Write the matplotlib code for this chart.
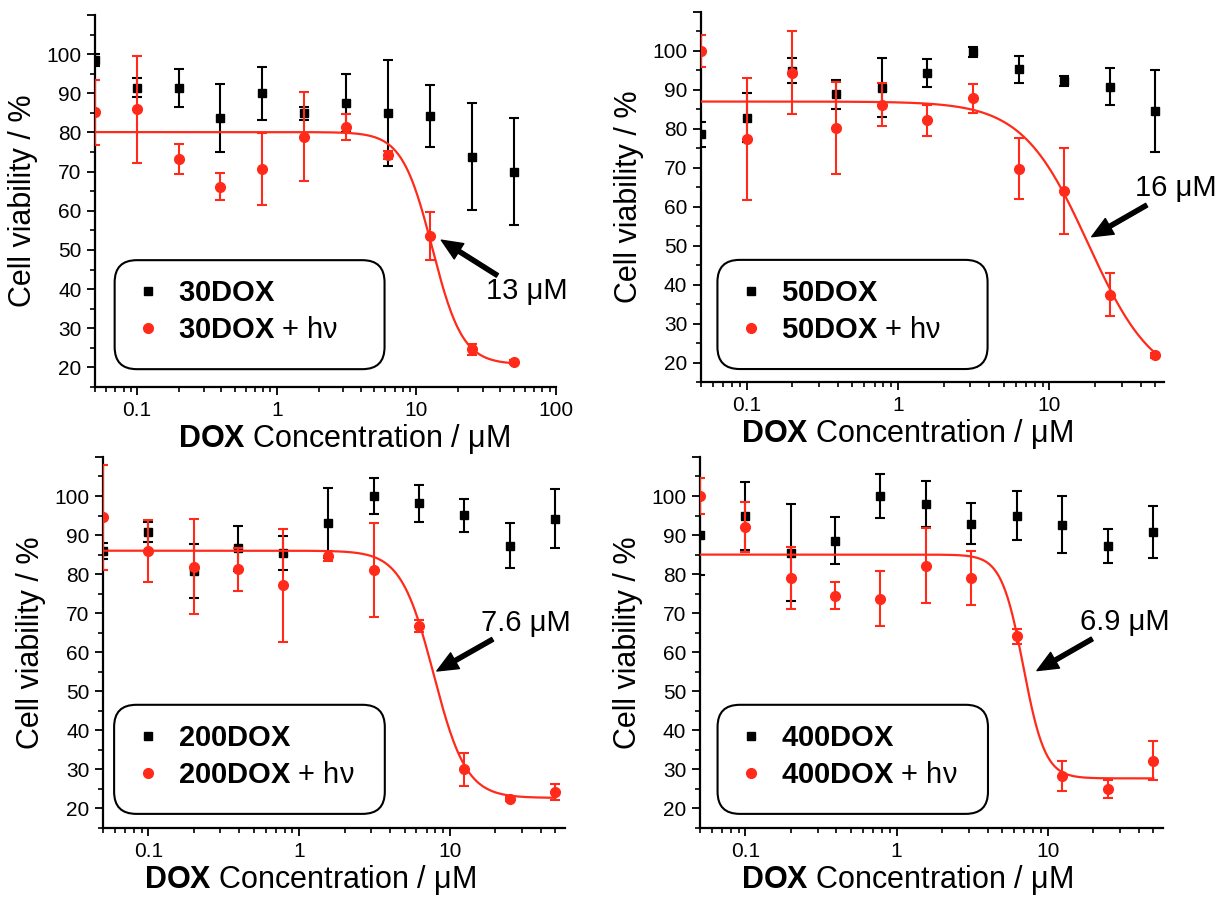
import numpy as np
import matplotlib
matplotlib.use('Agg')
import matplotlib.pyplot as plt
from matplotlib.patches import FancyBboxPatch
from matplotlib.ticker import LogLocator, NullFormatter, MultipleLocator

plt.rcParams['font.family'] = ['Liberation Sans', 'DejaVu Sans']
plt.rcParams['mathtext.fontset'] = 'custom'
plt.rcParams['mathtext.rm'] = 'Liberation Sans'
plt.rcParams['mathtext.bf'] = 'Liberation Sans:bold'

RED = '#ff2a1a'

# DOX concentration (uM)
conc = [0.05, 0.1, 0.2, 0.39, 0.78, 1.56, 3.125, 6.25, 12.5, 25, 50]

# 30DOX
dark30 = [98.5, 91.4, 91.3, 83.7, 90.0, 84.9, 87.5, 85.0, 84.3, 73.8, 70.0]
dark30_err = [1.5, 2.4, 4.8, 8.7, 6.8, 1.7, 7.4, 13.5, 7.9, 13.7, 13.6]
light30 = [85.2, 85.9, 73.2, 66.2, 70.7, 78.9, 81.4, 74.3, 53.5, 24.6, 21.3]
light30_err = [8.3, 13.7, 3.9, 3.5, 9.1, 11.4, 3.2, 1.0, 6.1, 1.5, 0.5]

# 50DOX
dark50 = [78.6, 82.9, 94.9, 88.9, 90.6, 94.4, 99.7, 95.3, 92.2, 90.8, 84.5]
dark50_err = [3.2, 6.3, 3.2, 3.7, 7.5, 3.6, 1.3, 3.5, 1.3, 4.7, 10.5]
light50 = [99.9, 77.3, 94.4, 80.3, 86.2, 82.2, 87.8, 69.8, 64.1, 37.4, 21.8]
light50_err = [4.1, 15.7, 10.7, 11.8, 5.6, 4.0, 3.7, 7.9, 11.1, 5.5, 0.7]

# 200DOX
dark200 = [86.0, 90.8, 80.8, 86.6, 85.4, 93.1, 100.0, 98.1, 95.1, 87.3, 94.2]
dark200_err = [2.0, 2.5, 6.9, 5.8, 4.4, 8.9, 4.6, 4.7, 4.2, 5.7, 7.6]
light200 = [94.5, 85.9, 81.9, 81.2, 77.1, 84.6, 81.0, 66.7, 30.0, 22.5, 24.2]
light200_err = [13.5, 8.0, 12.1, 5.5, 14.4, 1.3, 12.0, 1.5, 4.3, 0.5, 2.0]

# 400DOX
dark400 = [89.9, 94.9, 85.5, 88.6, 100.0, 98.0, 92.9, 95.0, 92.7, 87.2, 90.8]
dark400_err = [10.0, 8.7, 12.4, 6.0, 5.6, 5.9, 5.3, 6.3, 7.3, 4.3, 6.7]
light400 = [100.0, 92.0, 79.0, 74.5, 73.7, 82.2, 79.0, 64.1, 28.3, 24.9, 32.2]
light400_err = [4.6, 6.4, 8.0, 3.4, 7.1, 9.6, 7.0, 1.9, 3.8, 2.3, 5.0]

# logistic fit parameters: top, bottom, x0, hill
fit30 = (80.1, 20.8, 13.0, 4.0)
fit50 = (87.0, 14.0, 18.0, 2.0)
fit200 = (86.0, 22.7, 7.8, 4.0)
fit400 = (85.0, 27.7, 6.9, 6.0)

panels = [
    dict(name='30DOX', dark=dark30, dark_err=dark30_err, light=light30, light_err=light30_err,
         fit=fit30, ic50='13 μM', rect=[0.0776, 0.5695, 0.3763, 0.4138], xmax=100,
         head=(15.1, 52.5), tail=(38, 43.5), txt=(31.4, 39.4),
         box=(0.0425, 0.048, 0.5855, 0.293), leg=(0.0987, 0.203), xl=0.54),
    dict(name='50DOX', dark=dark50, dark_err=dark50_err, light=light50, light_err=light50_err,
         fit=fit50, ic50='16 μM', rect=[0.5722, 0.5751, 0.378, 0.4116], xmax=57,
         head=(19, 52.3), tail=(43.8, 60.4), txt=(36.6, 64.7),
         box=(0.0356, 0.035, 0.5834, 0.295), leg=(0.0918, 0.1905), xl=0.445),
    dict(name='200DOX', dark=dark200, dark_err=dark200_err, light=light200, light_err=light200_err,
         fit=fit200, ic50='7.6 μM', rect=[0.0841, 0.079, 0.3771, 0.4127], xmax=58,
         head=(8.2, 55.2), tail=(19.2, 63.3), txt=(16.1, 67.5),
         box=(0.024, 0.038, 0.586, 0.294), leg=(0.081, 0.193), xl=0.449),
    dict(name='400DOX', dark=dark400, dark_err=dark400_err, light=light400, light_err=light400_err,
         fit=fit400, ic50='6.9 μM', rect=[0.5714, 0.079, 0.378, 0.4127], xmax=58,
         head=(8.5, 55.3), tail=(19.7, 63.4), txt=(16.4, 67.7),
         box=(0.038, 0.038, 0.584, 0.294), leg=(0.094, 0.193), xl=0.447),
]

fig = plt.figure(figsize=(12.25, 8.99), dpi=100)

for p in panels:
    ax = fig.add_axes(p['rect'])
    ax.set_xscale('log')

    dk = ax.errorbar(conc, p['dark'], yerr=p['dark_err'], fmt='s', color='black', ms=5.5,
                     capsize=3.6, elinewidth=1.5, capthick=1.5, zorder=3)
    lt = ax.errorbar(conc, p['light'], yerr=p['light_err'], fmt='o', color=RED, ms=7,
                     capsize=3.6, elinewidth=1.5, capthick=1.5, zorder=4)

    top, bottom, x0, hill = p['fit']
    xs = np.logspace(np.log10(0.05), np.log10(50), 400)
    ys = bottom + (top - bottom) / (1 + (xs / x0) ** hill)
    ax.plot(xs, ys, color=RED, lw=1.6, zorder=5)

    ax.annotate('', xy=p['head'], xytext=p['tail'],
                arrowprops=dict(facecolor='black', edgecolor='black', width=3,
                                headwidth=13, headlength=15, shrink=0))
    ax.text(p['txt'][0], p['txt'][1], p['ic50'], fontsize=21, va='center', ha='left')

    ax.set_xlim(0.05, p['xmax'])
    ax.set_ylim(15, 110)
    ax.set_xticks([0.1, 1, 10, 100])
    ax.set_xticklabels(['0.1', '1', '10', '100'])
    ax.xaxis.set_minor_locator(LogLocator(base=10, subs=np.arange(2, 10)))
    ax.xaxis.set_minor_formatter(NullFormatter())
    ax.set_xlim(0.05, p['xmax'])
    ax.set_yticks(np.arange(20, 111, 10))
    ax.set_yticklabels([str(v) for v in range(20, 101, 10)] + [''])
    ax.yaxis.set_minor_locator(MultipleLocator(5))

    for s in ['top', 'right']:
        ax.spines[s].set_visible(False)
    for s in ['left', 'bottom']:
        ax.spines[s].set_linewidth(1.6)
    ax.tick_params(which='major', direction='out', length=5.8, width=1.3,
                   labelsize=15, pad=4)
    ax.tick_params(which='minor', direction='out', length=3.6, width=1.2)

    ax.set_ylabel('Cell viability / %', fontsize=22, labelpad=6)
    ax.set_xlabel(r'$\mathbf{DOX}$ Concentration / μM', fontsize=22)
    ax.xaxis.set_label_coords(p['xl'], -0.095)

    bx, by, bw, bh = p['box']
    ax.add_patch(FancyBboxPatch((bx, by), bw, bh,
                                boxstyle='round,pad=0,rounding_size=0.048',
                                mutation_aspect=1.24, transform=ax.transAxes,
                                facecolor='white', edgecolor='black', lw=1.5, zorder=6))
    leg = ax.legend([dk.lines[0], lt.lines[0]],
                    [r'$\mathbf{' + p['name'] + '}$', r'$\mathbf{' + p['name'] + '}$ + hν'],
                    loc='center left', bbox_to_anchor=p['leg'], frameon=False, fontsize=21,
                    handlelength=0.5, handletextpad=0.8, labelspacing=0.3,
                    borderpad=0, borderaxespad=0)
    leg.set_zorder(7)

fig.savefig('out.png', dpi=100)
